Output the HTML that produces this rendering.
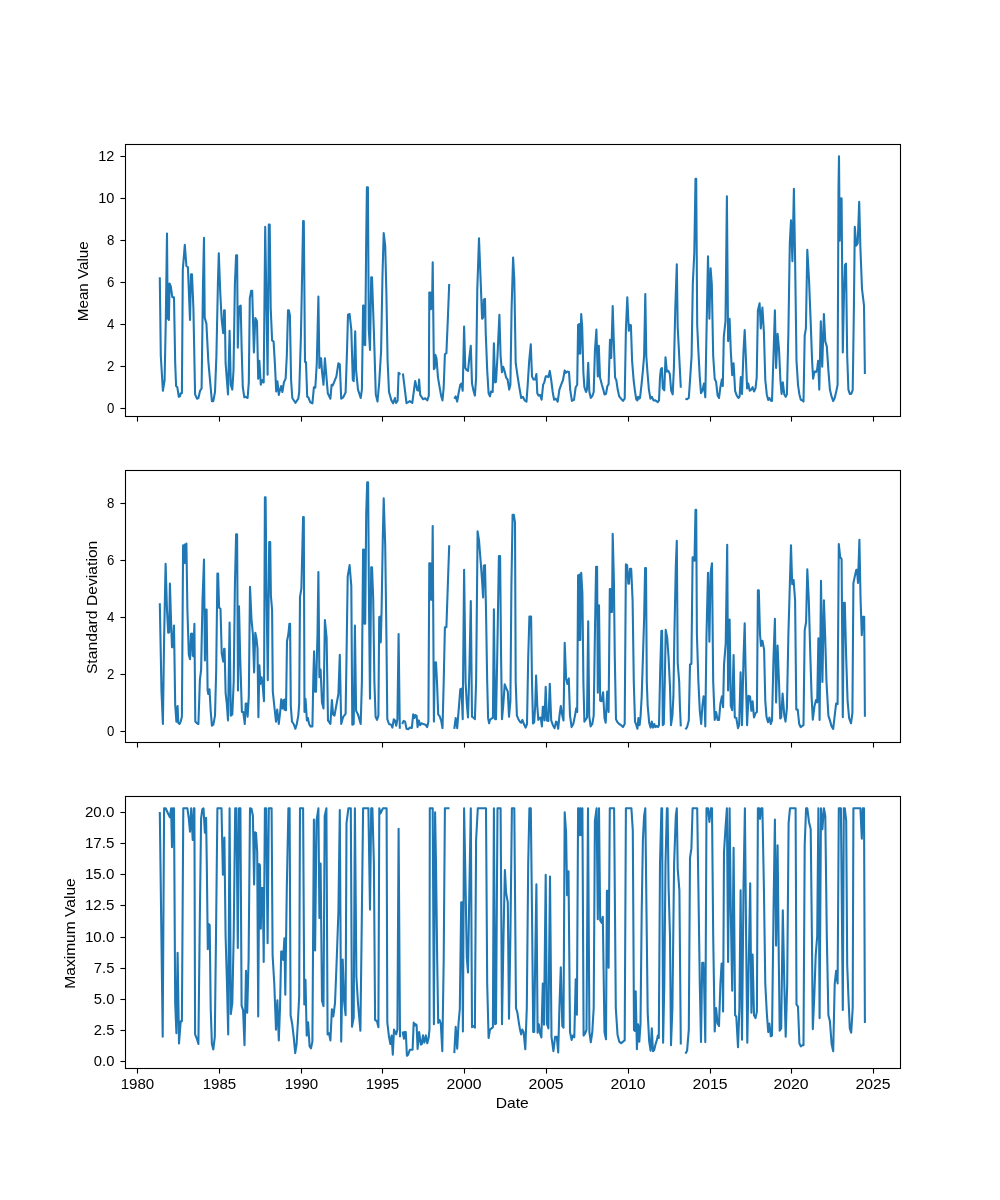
<!DOCTYPE html>
<html><head><meta charset="utf-8"><title>chart</title>
<style>
html,body{margin:0;padding:0;background:#fff;}
body{width:1000px;height:1200px;position:relative;overflow:hidden;font-family:"Liberation Sans",sans-serif;}
.t{font-family:"Liberation Sans",sans-serif;font-size:14.2px;fill:#000;}
</style></head><body>
<svg width="1000" height="1200" viewBox="0 0 1000 1200" style="position:absolute;left:0;top:0;transform:translateZ(0);will-change:transform">
<rect width="1000" height="1200" fill="#fff"/>
<clipPath id="c0"><rect x="125.0" y="144.00" width="775.0" height="271.76"/></clipPath>
<g clip-path="url(#c0)" fill="none" stroke="#1f77b4" stroke-width="2.08" stroke-linejoin="round" stroke-linecap="butt">
<polyline points="159.8,277.3 160.8,356.0 162.9,390.8 164.6,380.0 165.8,320.0 167.0,233.6 167.7,318.8 168.2,317.6 168.7,284.0 168.9,320.0 169.6,283.5 170.8,286.4 172.3,297.2 174.0,297.2 175.2,363.2 176.1,386.0 177.3,387.2 178.8,396.8 180.0,396.3 180.7,393.2 181.9,393.2 182.8,269.6 184.8,244.9 186.4,266.0 187.9,267.2 190.0,320.0 191.0,274.4 192.0,274.4 193.4,308.0 195.1,394.4 197.0,398.7 198.4,398.0 200.1,390.8 201.6,388.4 203.0,284.0 204.0,237.7 204.7,317.6 206.4,323.6 208.3,360.8 210.2,382.4 211.9,401.1 213.3,401.1 215.0,392.0 216.4,356.0 217.9,284.0 218.8,253.3 220.3,293.6 221.7,320.0 223.2,333.2 224.1,310.4 224.8,310.4 225.6,363.2 228.0,394.4 229.6,330.8 230.8,384.8 232.3,389.6 233.5,370.4 234.9,284.0 236.1,255.2 237.1,255.2 237.8,347.6 239.0,306.8 240.7,305.6 241.6,346.4 242.8,387.2 244.3,397.3 245.7,396.8 247.6,398.0 248.8,382.4 249.8,298.4 251.2,290.7 252.2,290.7 253.9,352.4 255.3,318.1 257.0,321.2 258.2,378.8 259.4,360.8 260.8,384.8 262.3,380.0 263.7,382.4 265.2,226.9 267.6,374.7 268.8,224.5 269.7,224.5 270.7,308.0 272.1,340.4 273.6,341.6 275.0,365.6 276.2,391.5 277.4,381.2 278.8,394.9 280.0,389.6 281.2,386.0 282.4,392.0 283.9,382.4 285.6,378.8 286.8,356.0 288.0,310.4 288.9,310.4 289.9,315.2 291.1,380.0 292.3,398.0 295.4,402.8 298.3,398.7 299.2,392.0 300.9,336.8 302.4,260.0 303.1,221.1 303.8,221.1 305.0,362.0 306.0,362.0 307.2,396.8 308.4,397.3 310.3,402.3 312.4,403.3 313.9,387.2 315.3,387.7 316.8,363.2 318.4,296.5 319.4,368.0 320.1,357.9 321.1,358.4 322.0,371.6 323.5,384.8 324.9,358.4 325.9,370.4 327.8,393.2 330.4,398.7 331.6,384.8 332.8,385.3 334.5,381.2 336.4,376.4 338.4,363.2 339.8,364.4 341.2,398.7 343.2,397.3 345.6,392.5 347.0,351.2 348.0,314.7 349.6,314.0 351.3,329.6 352.8,380.0 353.7,381.2 355.2,331.3 356.1,370.4 358.0,389.6 360.7,398.0 361.9,389.6 363.1,305.6 363.8,305.6 364.5,344.7 365.2,345.2 366.2,240.8 366.9,187.3 367.9,187.3 368.8,329.6 370.0,350.0 371.2,277.3 372.0,277.3 373.9,332.0 375.8,394.4 377.5,401.6 379.2,382.4 381.1,351.2 382.5,274.4 383.7,233.1 385.2,245.6 386.4,293.6 387.6,360.8 389.0,392.0 391.4,400.4 393.1,403.3 395.0,398.0 395.0,399.7 396.1,403.0 397.6,400.6 398.6,372.8 400.4,374.5"/>
<polyline points="402.9,373.5 406.5,403.2 408.7,401.8 409.8,401.1 412.3,402.8 415.2,381.0 417.3,390.3 418.4,390.6 419.1,379.5 420.2,394.9 423.0,399.2 425.2,398.2 427.3,400.4 428.8,395.8 429.3,292.6 430.3,292.6 431.0,309.2 432.0,308.0 432.7,262.4 433.9,369.2 434.8,368.0 435.3,354.8 436.5,358.4 438.0,377.6 439.6,387.2 441.1,395.6 442.5,400.4 443.7,387.2 444.9,354.3 446.4,353.1 447.8,320.0 449.2,284.0"/>
<polyline points="454.3,398.7 455.7,396.3 457.2,401.6 458.8,392.0 460.3,384.8 461.5,383.6 462.7,390.8 464.1,326.5 465.3,368.0 466.5,369.9 468.0,370.9 469.4,357.2 470.8,345.7 472.0,383.6 473.5,390.8 474.9,395.6 476.1,377.6 477.3,288.8 479.0,238.4 480.4,274.4 482.1,318.8 483.1,317.6 483.8,299.6 485.0,298.9 485.7,332.0 487.2,370.4 488.6,393.2 490.0,396.3 491.0,391.5 492.7,392.0 493.9,343.3 495.1,382.4 496.0,381.9 497.5,356.0 499.4,314.7 500.6,356.0 502.0,372.3 503.2,366.8 504.7,371.6 506.1,377.6 507.6,379.5 509.2,389.6 510.4,384.8 511.6,308.0 513.1,257.6 514.3,279.2 515.7,363.2 517.6,376.4 519.3,387.2 521.2,398.0 522.9,396.8 524.6,400.4 526.5,401.6 527.7,384.8 529.2,360.8 530.8,344.2 532.0,376.4 533.5,379.5 535.2,379.5 536.4,374.0 537.3,393.2 538.5,395.6 540.0,394.9 541.6,399.7 543.1,384.8 544.3,382.4 545.7,376.4 547.2,376.4 548.4,377.1 549.8,370.9 551.2,380.0 552.7,392.0 554.1,399.7 555.8,398.7 557.7,401.6 559.4,389.6 561.1,384.8 563.0,380.0 564.7,370.4 565.9,372.8 567.3,371.6 569.0,372.1 570.2,389.6 571.9,400.9 574.0,399.9 575.7,387.2 577.2,384.8 578.1,324.8 578.8,353.6 579.3,324.1 580.3,353.6 581.2,314.0 582.2,327.2 583.4,372.8 584.4,387.2 586.0,392.0 587.0,389.6 588.2,362.7 589.4,392.0 590.8,398.0 592.5,395.6 593.7,392.0 594.9,351.2 596.4,329.6 597.8,376.4 598.8,345.7 600.0,377.6 601.9,384.8 603.3,389.6 604.5,394.4 606.0,393.9 607.4,386.0 608.6,384.3 610.0,339.7 611.2,357.9 612.7,306.1 613.9,344.0 615.1,377.6 616.3,380.0 617.7,389.6 619.2,396.3 621.1,398.7 623.0,400.9 624.7,398.7 625.9,329.6 627.3,297.2 628.8,330.8 629.5,324.8 630.9,325.3 632.1,360.8 633.6,380.0 635.0,391.3 635.0,391.3 636.2,399.2 637.4,400.4 638.1,396.8 639.1,398.7 640.0,398.0 641.5,384.8 642.9,370.4 644.1,356.0 645.3,294.1 646.3,356.0 647.5,372.8 648.9,389.6 650.4,398.7 651.8,396.8 653.5,400.4 655.4,400.4 657.8,402.1 659.0,400.4 660.0,377.6 660.9,369.2 661.9,368.0 662.8,388.4 664.3,390.3 665.5,357.2 666.9,371.6 668.4,370.9 669.8,374.0 671.2,390.8 672.7,394.4 673.9,368.0 675.3,308.0 676.8,264.3 677.7,327.2 679.2,356.0 680.8,387.7"/>
<polyline points="685.4,398.7 687.1,399.2 688.8,398.0 690.2,377.6 691.6,356.0 692.8,284.0 694.3,252.8 695.5,178.9 696.2,178.9 697.2,324.8 698.4,351.2 699.8,377.6 701.0,393.2 702.4,390.8 703.9,383.6 705.3,397.3 706.5,332.0 708.0,256.4 709.4,318.8 710.6,268.4 711.8,284.0 713.2,356.0 714.7,378.8 716.1,381.9 717.6,395.6 719.0,398.0 720.4,387.2 721.9,379.3 722.8,386.0 723.8,336.8 725.5,321.2 726.9,196.4 728.1,341.1 729.6,318.8 730.8,351.2 732.2,375.2 733.6,363.2 735.1,390.8 736.8,395.6 738.4,398.0 739.6,396.8 740.8,377.1 742.0,393.9 743.5,351.2 744.7,330.1 745.6,351.2 747.1,388.4 748.3,383.6 749.7,390.8 751.2,389.6 752.6,387.2 754.0,391.5 755.5,388.4 756.7,377.6 757.9,310.4 759.6,303.2 760.8,328.4 762.4,307.5 763.9,332.0 765.3,380.0 766.8,394.4 768.2,399.9 769.4,398.0 770.6,400.4 772.0,400.9 773.5,356.0 774.9,310.4 776.1,368.0 777.6,333.9 779.0,348.8 780.4,380.0 781.6,393.9 782.8,382.4 784.3,394.4 785.7,396.8 786.9,394.4 788.4,332.0 789.8,243.2 791.0,220.4 792.4,261.2 793.9,188.7 795.1,260.0 796.5,360.8 798.0,384.8 799.4,394.4 800.8,399.7 802.3,400.4 803.5,401.6 804.7,335.6 805.9,328.4 807.3,249.7 809.0,279.2 810.7,322.4 812.1,360.8 813.1,378.8 814.5,371.6 816.0,372.1 817.2,369.2 818.1,360.8 819.3,389.6 820.8,321.4 822.2,366.8 823.9,314.0 825.3,341.6 826.8,346.4 828.4,370.4 829.9,389.6 831.3,395.6 833.2,401.1 834.7,398.0 836.4,390.8 837.6,384.8 838.5,188.0 839.0,156.3 839.7,240.8 840.4,198.8 841.6,198.3 842.8,352.4 844.0,293.6 845.0,264.8 846.0,263.6 847.2,356.0 848.4,389.6 849.8,393.9 851.2,393.9 852.7,390.1 853.9,308.0 854.8,226.9 856.3,245.6 857.7,243.2 859.2,201.7 860.4,248.0 862.0,288.8 864.0,305.6 864.9,374.0"/>
</g>
<rect x="125.5" y="144.5" width="775.0" height="272.0" fill="none" stroke="#000" stroke-width="1.1"/>
<g stroke="#000" stroke-width="1.1">
<line x1="137.5" x2="137.5" y1="417.0" y2="421.60"/>
<line x1="219.5" x2="219.5" y1="417.0" y2="421.60"/>
<line x1="301.5" x2="301.5" y1="417.0" y2="421.60"/>
<line x1="382.5" x2="382.5" y1="417.0" y2="421.60"/>
<line x1="464.5" x2="464.5" y1="417.0" y2="421.60"/>
<line x1="546.5" x2="546.5" y1="417.0" y2="421.60"/>
<line x1="628.5" x2="628.5" y1="417.0" y2="421.60"/>
<line x1="710.5" x2="710.5" y1="417.0" y2="421.60"/>
<line x1="791.5" x2="791.5" y1="417.0" y2="421.60"/>
<line x1="873.5" x2="873.5" y1="417.0" y2="421.60"/>
<line x1="120.40" x2="125.0" y1="408.5" y2="408.5"/>
<line x1="120.40" x2="125.0" y1="366.5" y2="366.5"/>
<line x1="120.40" x2="125.0" y1="324.5" y2="324.5"/>
<line x1="120.40" x2="125.0" y1="282.5" y2="282.5"/>
<line x1="120.40" x2="125.0" y1="240.5" y2="240.5"/>
<line x1="120.40" x2="125.0" y1="198.5" y2="198.5"/>
<line x1="120.40" x2="125.0" y1="156.5" y2="156.5"/>
</g>
<text x="114.38" y="413.30" text-anchor="end" class="t" textLength="7.34" lengthAdjust="spacingAndGlyphs">0</text>
<text x="114.38" y="371.20" text-anchor="end" class="t" textLength="7.34" lengthAdjust="spacingAndGlyphs">2</text>
<text x="114.38" y="329.10" text-anchor="end" class="t" textLength="7.34" lengthAdjust="spacingAndGlyphs">4</text>
<text x="114.38" y="287.00" text-anchor="end" class="t" textLength="7.34" lengthAdjust="spacingAndGlyphs">6</text>
<text x="114.38" y="244.90" text-anchor="end" class="t" textLength="7.34" lengthAdjust="spacingAndGlyphs">8</text>
<text x="114.38" y="202.80" text-anchor="end" class="t" textLength="16.17" lengthAdjust="spacingAndGlyphs">10</text>
<text x="114.38" y="160.70" text-anchor="end" class="t" textLength="16.17" lengthAdjust="spacingAndGlyphs">12</text>
<text transform="translate(88.05,281.28) rotate(-90)" text-anchor="middle" class="t" textLength="79.80" lengthAdjust="spacingAndGlyphs">Mean Value</text>
<clipPath id="c1"><rect x="125.0" y="470.12" width="775.0" height="271.76"/></clipPath>
<g clip-path="url(#c1)" fill="none" stroke="#1f77b4" stroke-width="2.08" stroke-linejoin="round" stroke-linecap="butt">
<polyline points="159.8,603.3 161.5,691.6 162.9,724.0 164.1,638.8 165.6,563.7 167.0,610.0 168.2,632.8 169.2,632.3 169.9,583.6 171.1,622.0 172.0,647.2 172.8,647.2 174.0,625.6 175.2,704.8 176.4,721.6 177.6,706.0 178.3,722.8 179.5,724.0 180.7,721.6 181.9,716.8 183.1,545.2 184.0,563.2 184.8,544.5 185.5,562.7 186.4,543.5 187.4,610.0 188.8,654.4 190.0,659.2 191.0,634.0 192.0,633.5 192.7,655.6 193.4,656.3 194.4,623.7 195.3,721.6 197.0,723.3 198.4,724.0 199.9,679.6 201.1,670.0 202.5,600.4 204.0,559.6 204.9,660.4 205.9,609.5 206.6,609.5 207.6,690.4 208.3,694.0 209.5,689.2 210.7,710.8 211.9,725.7 213.3,724.7 215.0,715.6 216.2,670.0 217.4,573.5 218.1,573.5 219.1,607.6 220.5,608.8 221.7,653.2 223.2,661.6 224.1,648.9 224.6,648.9 225.6,692.8 226.8,703.6 228.0,720.4 229.6,622.5 230.8,715.6 232.3,714.4 233.7,682.0 234.9,586.0 236.1,534.4 237.1,534.4 238.0,690.4 239.0,606.4 240.2,658.0 241.9,712.0 243.3,712.0 244.8,724.0 245.7,703.6 246.7,703.6 247.6,716.8 248.8,696.4 250.0,586.7 251.5,619.6 252.9,634.0 254.1,672.4 255.3,632.8 256.5,638.8 257.5,648.4 258.4,717.3 259.4,665.2 260.4,683.9 261.6,677.2 262.8,686.8 264.0,701.2 264.9,497.2 265.6,497.2 266.4,586.0 267.8,680.3 269.2,542.1 270.2,542.1 270.9,595.6 272.1,610.0 272.8,691.6 274.3,706.0 276.0,721.6 277.2,709.6 278.8,724.0 280.3,710.8 281.2,699.3 282.4,708.4 283.6,700.0 284.4,709.6 285.1,699.3 286.0,710.3 287.0,641.2 288.4,634.0 289.4,623.7 290.1,623.7 290.8,706.0 292.0,721.6 293.7,724.0 295.4,728.8 296.8,724.0 298.3,715.6 299.2,703.6 300.0,596.8 301.4,588.4 303.1,517.1 303.8,517.1 304.5,712.0 305.5,698.8 306.9,720.4 307.9,718.0 309.1,724.0 310.5,726.4 312.4,726.4 313.4,674.8 314.1,651.3 315.1,691.6 316.0,691.6 317.5,634.0 318.4,572.1 319.4,677.2 320.6,669.5 322.0,702.4 323.5,708.4 324.9,620.1 326.6,637.6 328.0,720.4 330.4,724.0 331.9,700.0 333.1,714.4 334.5,715.6 336.2,706.0 338.4,694.0 339.8,654.9 341.2,724.0 343.2,716.8 345.6,713.9 346.5,658.0 347.7,576.4 349.6,565.1 351.3,586.0 352.3,724.7 353.7,724.0 354.9,625.6 356.1,710.8 358.0,714.4 360.7,724.0 361.9,682.0 363.1,549.5 363.8,549.5 364.5,623.7 365.2,623.7 366.2,514.0 367.2,482.3 368.1,482.3 369.1,614.8 370.0,698.8 371.2,567.3 372.0,567.3 373.2,598.0 374.4,682.0 375.6,716.8 377.0,719.9 378.4,715.6 379.2,617.2 380.1,616.7 380.8,642.4 381.6,610.0 382.8,538.0 383.7,498.4 385.2,545.2 386.4,634.0 387.3,719.2 389.0,724.0 391.2,724.7 392.4,727.6 393.8,719.2 395.0,720.4 395.0,720.4 396.2,725.7 397.4,719.2 398.6,634.0 399.8,728.8"/>
<polyline points="402.2,724.0 403.6,720.9 405.1,721.6 406.5,728.8 408.2,729.3 409.9,727.6 411.8,728.1 413.2,714.4 414.4,718.0 415.4,715.1 416.6,715.6 417.6,727.1 418.8,720.4 420.2,725.2 421.4,723.3 423.3,724.0 425.5,724.7 427.2,727.1 428.4,721.6 429.3,563.2 430.3,563.2 431.0,599.7 432.0,599.7 432.7,526.0 433.9,721.6 434.8,662.8 436.0,662.3 437.0,682.0 438.2,714.4 439.6,716.1 441.1,720.4 442.5,728.1 443.7,682.0 444.9,627.3 446.4,627.3 447.8,586.0 449.2,545.2"/>
<polyline points="454.3,728.8 455.7,718.0 457.2,728.1 458.8,708.4 460.3,689.2 461.5,688.7 462.7,719.2 464.1,569.7 465.6,682.0 466.8,703.6 468.0,717.5 469.4,670.0 470.8,601.1 472.0,716.8 473.5,717.5 474.9,719.2 476.1,682.0 477.6,531.3 479.0,540.4 480.7,562.0 482.1,581.2 483.1,597.5 483.8,565.6 485.0,565.1 486.0,610.0 487.2,682.0 488.1,718.0 489.1,723.3 490.0,719.9 491.5,718.5 492.9,718.0 493.9,609.3 495.1,719.2 496.0,719.2 497.2,658.0 498.9,556.0 500.1,556.0 501.1,658.0 502.0,719.2 503.2,706.0 504.7,684.4 506.1,688.0 507.8,691.6 509.0,716.8 510.4,701.2 511.4,586.0 512.6,514.7 513.8,514.7 515.0,522.4 515.7,682.0 516.9,715.6 518.4,719.2 519.8,721.6 521.2,722.8 522.4,719.9 523.9,724.0 525.6,727.6 527.0,724.0 528.2,658.0 529.4,616.5 531.1,616.5 532.0,682.0 533.0,723.5 534.2,722.3 535.2,706.0 536.1,675.5 537.3,706.0 538.3,719.9 539.7,718.0 540.7,717.5 541.9,726.4 542.8,706.7 543.6,706.7 544.5,720.4 545.7,686.8 546.9,720.4 548.4,720.9 549.8,683.9 551.2,720.4 552.9,725.2 554.6,728.1 556.0,721.6 557.0,722.3 558.2,728.8 559.6,714.4 560.8,706.0 562.3,715.6 563.5,720.4 564.7,642.9 566.1,678.4 567.3,683.9 568.8,678.4 570.0,715.6 571.6,727.1 573.3,724.0 575.0,715.6 576.2,708.4 577.2,712.0 578.1,575.2 578.8,640.0 579.6,574.5 580.3,640.0 581.2,572.8 582.4,593.2 583.4,682.0 584.4,721.6 586.0,719.2 587.0,717.5 588.2,621.3 589.2,715.6 590.6,726.4 592.3,724.0 593.7,715.6 594.9,634.0 596.1,566.8 597.1,566.8 597.8,692.8 599.0,605.2 600.2,700.7 601.6,701.2 603.1,692.3 604.5,718.0 605.7,722.8 607.2,691.6 608.6,712.0 609.8,589.1 610.5,589.1 611.2,611.9 612.0,611.9 612.7,533.9 613.9,581.2 614.8,658.0 616.0,719.2 617.5,722.3 619.2,724.0 621.1,725.2 623.0,727.1 624.7,724.0 625.9,564.4 627.1,565.1 628.3,583.6 629.0,583.6 630.0,568.7 631.2,568.7 632.6,600.4 633.8,682.0 635.0,721.6 635.0,721.6 636.2,724.7 637.4,728.8 638.4,718.0 639.6,725.2 640.5,717.5 641.7,696.4 642.9,658.0 644.1,619.6 645.1,568.0 646.0,568.0 646.8,682.0 647.7,706.0 649.2,722.8 650.6,727.6 651.8,721.6 653.0,727.6 654.2,724.0 655.4,727.1 656.8,725.9 658.0,727.1 659.0,725.2 660.2,670.0 661.4,630.9 662.1,630.9 662.8,725.2 663.8,724.0 664.8,682.0 665.7,629.9 667.2,637.6 668.6,658.0 670.0,686.8 671.0,725.2 672.4,715.6 673.4,696.4 674.4,634.0 675.8,566.8 676.8,540.9 677.7,662.8 679.2,682.0 679.9,706.0 680.8,726.4"/>
<polyline points="685.4,729.3 687.1,727.1 688.8,720.4 690.0,664.5 691.4,664.0 692.6,557.2 693.8,557.7 694.5,560.8 695.5,509.9 696.2,509.9 696.9,634.0 698.4,682.0 699.8,710.8 701.2,724.0 702.4,706.0 703.6,696.4 704.4,696.9 705.3,726.4 706.5,634.0 708.0,572.8 709.4,641.7 710.6,572.8 712.0,563.2 713.2,682.0 714.7,719.9 716.1,712.0 717.6,719.9 719.0,719.9 720.4,703.6 721.9,696.4 723.1,707.2 724.0,665.2 725.7,643.6 727.2,544.7 728.1,690.4 729.6,619.6 730.8,706.0 732.2,710.3 733.6,655.1 734.8,717.5 736.3,718.0 738.0,728.1 739.2,724.7 740.6,672.4 742.0,725.2 743.5,658.0 744.7,623.2 745.6,670.0 747.1,725.2 748.5,695.9 750.0,696.4 751.4,710.8 752.6,701.2 754.0,717.5 755.5,713.2 756.9,712.0 757.9,590.3 758.8,590.3 760.0,634.0 761.0,646.0 762.4,640.7 764.1,649.6 765.3,701.2 766.5,716.8 768.0,722.3 769.4,717.5 770.8,724.0 772.0,720.4 773.5,658.0 774.9,618.9 776.1,702.4 777.6,645.5 779.0,682.0 780.2,718.5 781.2,717.5 782.6,693.5 784.3,715.6 785.5,721.6 786.9,708.4 788.4,634.0 789.8,586.0 791.0,545.2 792.2,584.3 793.6,580.0 795.1,600.4 796.3,709.6 797.7,709.6 799.2,724.0 800.6,727.1 802.3,725.9 803.5,725.2 804.7,630.4 806.1,622.0 807.3,569.2 808.8,600.4 810.4,658.0 811.6,696.4 812.8,719.7 814.5,706.0 816.0,700.0 817.2,702.4 818.4,638.3 819.6,719.9 821.0,580.7 822.4,682.0 823.9,600.4 825.1,634.0 826.5,682.0 828.4,715.6 829.9,720.4 831.6,726.4 833.2,728.8 834.7,715.6 836.1,703.6 837.6,704.1 838.8,544.0 840.2,557.2 841.6,559.1 842.8,717.3 843.8,602.8 844.8,602.8 846.2,658.0 847.6,701.2 849.1,718.0 851.0,723.3 852.4,713.2 853.4,583.1 854.8,576.4 856.3,569.7 857.0,569.7 858.0,582.9 859.4,539.7 860.6,600.4 861.8,635.2 863.0,616.7 864.2,616.7 864.9,716.8"/>
</g>
<rect x="125.5" y="470.5" width="775.0" height="272.0" fill="none" stroke="#000" stroke-width="1.1"/>
<g stroke="#000" stroke-width="1.1">
<line x1="137.5" x2="137.5" y1="743.0" y2="747.60"/>
<line x1="219.5" x2="219.5" y1="743.0" y2="747.60"/>
<line x1="301.5" x2="301.5" y1="743.0" y2="747.60"/>
<line x1="382.5" x2="382.5" y1="743.0" y2="747.60"/>
<line x1="464.5" x2="464.5" y1="743.0" y2="747.60"/>
<line x1="546.5" x2="546.5" y1="743.0" y2="747.60"/>
<line x1="628.5" x2="628.5" y1="743.0" y2="747.60"/>
<line x1="710.5" x2="710.5" y1="743.0" y2="747.60"/>
<line x1="791.5" x2="791.5" y1="743.0" y2="747.60"/>
<line x1="873.5" x2="873.5" y1="743.0" y2="747.60"/>
<line x1="120.40" x2="125.0" y1="731.5" y2="731.5"/>
<line x1="120.40" x2="125.0" y1="674.5" y2="674.5"/>
<line x1="120.40" x2="125.0" y1="617.5" y2="617.5"/>
<line x1="120.40" x2="125.0" y1="560.5" y2="560.5"/>
<line x1="120.40" x2="125.0" y1="503.5" y2="503.5"/>
</g>
<text x="114.38" y="736.30" text-anchor="end" class="t" textLength="7.34" lengthAdjust="spacingAndGlyphs">0</text>
<text x="114.38" y="679.22" text-anchor="end" class="t" textLength="7.34" lengthAdjust="spacingAndGlyphs">2</text>
<text x="114.38" y="622.14" text-anchor="end" class="t" textLength="7.34" lengthAdjust="spacingAndGlyphs">4</text>
<text x="114.38" y="565.06" text-anchor="end" class="t" textLength="7.34" lengthAdjust="spacingAndGlyphs">6</text>
<text x="114.38" y="507.98" text-anchor="end" class="t" textLength="7.34" lengthAdjust="spacingAndGlyphs">8</text>
<text transform="translate(97.0,607.40) rotate(-90)" text-anchor="middle" class="t" textLength="133.43" lengthAdjust="spacingAndGlyphs">Standard Deviation</text>
<clipPath id="c2"><rect x="125.0" y="796.24" width="775.0" height="271.76"/></clipPath>
<g clip-path="url(#c2)" fill="none" stroke="#1f77b4" stroke-width="2.08" stroke-linejoin="round" stroke-linecap="butt">
<polyline points="159.8,811.9 162.7,1036.8 164.1,808.3 165.6,808.3 167.0,811.2 168.4,814.3 169.9,817.2 171.1,808.3 172.0,847.2 173.0,808.3 174.0,808.3 175.2,1003.2 176.4,1033.2 177.6,952.8 179.0,1043.5 180.7,1021.2 181.9,1021.2 183.3,808.3 187.4,808.3 188.8,818.4 190.0,831.6 191.2,808.3 192.7,840.0 193.9,808.3 194.4,808.3 195.1,1034.4 197.0,1039.2 198.4,1044.0 199.6,936.0 201.1,818.4 202.3,809.3 203.5,808.3 204.9,832.8 206.1,817.9 206.8,864.0 207.8,949.2 208.8,924.0 209.7,925.2 210.7,1008.0 211.9,1044.0 213.3,1049.5 214.8,1036.8 216.0,936.0 217.4,808.3 221.5,808.3 222.9,874.8 224.4,837.6 225.6,936.0 227.0,984.0 228.2,1034.4 229.6,808.3 230.8,1014.0 232.3,1003.2 233.7,936.0 235.2,808.3 236.4,808.3 237.8,948.0 239.0,808.3 240.4,808.3 241.6,1005.6 243.1,1010.4 244.5,1045.2 246.0,970.8 247.2,1012.8 248.6,960.0 250.0,808.3 251.5,808.8 252.9,816.0 254.1,884.4 255.1,832.3 256.0,832.8 257.2,852.0 258.2,1016.4 259.2,864.0 259.9,865.2 260.8,928.8 261.6,888.0 262.8,888.0 263.7,961.9 264.9,808.3 266.1,808.3 267.6,943.2 268.8,808.3 271.6,808.3 272.6,955.2 274.3,984.0 276.0,1029.6 277.4,1000.3 278.8,1040.4 280.0,1008.0 281.2,951.6 282.2,951.6 283.2,960.0 284.4,938.4 285.3,994.8 286.8,888.0 288.4,808.3 289.6,808.3 290.6,1015.2 292.3,1024.8 293.7,1036.8 295.2,1053.1 296.6,1044.0 298.0,1020.0 299.2,996.0 300.0,808.3 303.1,808.3 304.3,1004.4 305.5,979.9 306.7,1035.6 308.1,1022.4 309.6,1046.4 311.0,1048.3 312.4,1041.6 313.9,819.6 315.1,950.4 316.5,820.8 318.4,808.3 319.4,918.0 320.6,863.5 322.0,1000.8 323.5,1006.1 324.7,816.0 326.4,808.3 327.6,1034.4 329.0,1033.2 330.4,1040.4 331.9,1009.2 333.3,1016.4 335.0,1003.2 336.7,960.0 338.4,912.0 339.8,810.0 341.2,1041.6 342.7,959.5 344.1,1000.8 345.6,1015.2 346.5,823.2 348.4,808.3 350.8,808.3 352.0,1026.7 353.7,1017.6 354.9,808.3 356.4,976.8 358.0,1003.2 360.4,1030.8 361.6,936.0 363.1,808.3 368.4,808.3 370.0,909.6 371.2,808.3 372.4,808.3 373.9,864.0 375.1,1020.0 377.0,1021.2 378.4,1027.2 379.3,808.3 380.4,813.6 383.0,808.3 386.6,808.3 387.3,1022.4 389.0,1036.8 390.4,1044.0 391.6,1035.6 392.8,1054.8 394.0,1029.6 395.0,1032.0 395.0,1032.0 396.2,1034.4 397.4,1029.6 398.6,828.7 400.0,1037.3"/>
<polyline points="402.6,1031.5 404.0,1038.7 404.7,1032.0 405.8,1032.0 406.9,1055.8 408.0,1055.0 409.8,1049.8 412.6,1049.8 413.7,1022.6 414.8,1025.5 415.5,1024.1 416.6,1025.0 417.6,1049.0 419.1,1032.0 420.9,1044.5 421.9,1044.0 423.0,1035.4 424.4,1042.6 425.9,1035.4 427.3,1043.3 428.7,1037.5 429.5,1029.1 429.8,808.3 432.7,808.3 433.9,1024.3 435.1,812.4 436.0,864.0 437.2,960.0 438.2,1022.9 439.6,1020.0 440.8,1023.6 442.3,1051.2 443.7,960.0 444.9,808.3 449.5,808.3"/>
<polyline points="454.3,1053.1 455.7,1026.7 457.2,1048.8 458.6,1022.4 459.8,1009.2 461.2,902.4 462.0,902.4 462.9,1031.5 464.1,808.3 465.6,888.0 466.8,957.6 468.0,972.5 469.4,888.0 470.8,808.3 472.0,1027.2 473.5,1026.0 474.9,1027.7 476.1,840.0 477.8,808.3 486.0,808.3 487.2,984.0 488.6,1038.0 490.0,1029.6 491.5,1028.4 492.9,1027.2 493.9,808.3 495.1,1024.3 496.0,1023.6 497.5,808.3 500.6,808.3 502.0,1024.3 503.5,936.0 504.9,870.0 506.1,892.8 507.8,902.4 509.0,1018.8 510.4,936.0 511.9,808.3 514.3,808.3 516.0,1008.0 517.4,1012.8 518.8,1022.4 520.0,1029.6 521.2,1034.4 522.2,1029.6 523.6,1032.0 525.3,1049.3 526.8,1008.0 528.2,864.0 529.4,808.3 530.8,808.3 532.0,912.0 533.2,1032.0 534.2,1032.0 535.2,960.0 536.4,884.4 537.6,1032.7 538.8,1024.3 540.0,1033.2 541.4,1037.5 542.8,983.5 544.0,1024.8 545.7,874.8 546.9,1023.6 548.4,1028.4 550.0,876.5 551.5,1036.8 553.4,1051.2 555.1,1036.8 556.8,1036.8 558.2,1052.4 559.4,1008.0 560.8,967.2 562.3,1026.0 563.5,1027.7 564.7,812.4 566.1,832.8 567.1,895.2 568.5,871.2 570.0,1032.0 571.6,1039.9 572.8,1035.6 574.3,1037.3 575.7,979.2 576.9,1014.7 578.1,808.3 578.8,808.3 579.6,835.2 580.5,808.3 581.5,835.2 582.4,808.3 583.6,1035.6 585.3,1033.2 586.5,1029.6 588.0,808.3 589.4,1032.0 590.8,1042.3 592.3,1032.0 593.7,1008.0 594.9,820.8 596.6,808.3 597.8,919.2 599.0,808.3 600.2,920.4 601.6,922.8 602.8,916.8 604.5,1032.0 606.0,1039.2 606.9,890.9 607.9,890.9 608.6,967.7 609.8,808.3 614.1,808.3 615.8,1008.0 617.5,1034.4 619.2,1041.6 621.1,1043.3 623.0,1041.6 624.7,1040.4 625.9,808.3 631.4,808.3 632.8,830.4 634.0,1030.1 635.0,1030.8 635.0,1030.8 635.7,991.2 636.9,1049.3 638.1,1024.3 639.3,1041.6 640.5,1024.3 641.7,912.0 642.9,840.0 644.1,816.0 645.3,808.3 646.5,912.0 647.7,1012.8 649.2,1041.6 650.6,1050.7 651.8,1028.4 653.0,1051.2 654.2,1050.0 655.6,1044.0 656.8,1040.4 657.8,1035.6 658.8,1038.0 660.0,864.0 661.4,808.3 662.1,808.3 663.1,1042.8 664.3,984.0 665.5,864.0 666.9,808.3 667.6,808.3 668.6,888.0 670.0,936.0 671.0,1045.2 672.4,1008.0 674.1,864.0 675.8,816.0 676.8,808.3 677.7,868.8 679.4,890.4 680.8,1044.5"/>
<polyline points="685.4,1053.6 687.1,1050.7 688.8,1029.6 690.0,858.0 691.4,848.4 692.6,808.3 697.2,808.3 698.4,888.0 699.8,984.0 701.0,1042.1 702.2,962.9 703.4,962.9 704.1,984.0 705.3,1042.1 706.5,808.3 708.0,808.3 709.4,822.0 710.8,808.3 712.0,808.3 713.2,936.0 714.7,1031.5 716.1,1008.0 717.6,1023.6 719.0,1026.0 720.4,984.0 721.6,963.6 722.4,963.6 723.1,1011.6 724.0,852.0 725.5,828.0 726.9,808.3 728.1,961.9 729.6,808.3 730.8,912.0 732.2,990.7 733.6,847.7 735.1,1015.2 736.3,1016.4 738.0,1047.1 739.4,1008.0 740.6,890.4 742.0,1039.7 743.5,888.0 744.9,808.3 746.1,936.0 747.3,1042.8 748.8,960.0 750.2,883.2 751.4,1012.8 752.6,954.5 754.0,1015.2 755.5,1018.1 756.9,1011.6 757.9,808.3 759.1,808.3 760.0,818.9 761.2,808.3 762.4,808.3 763.9,888.0 765.3,984.0 766.8,1012.8 768.2,1032.0 769.4,1023.6 770.8,1036.3 772.0,1035.6 773.5,912.0 774.9,819.6 776.1,945.6 777.6,845.3 778.8,960.0 779.7,1030.8 781.2,1028.4 782.8,910.3 784.3,984.0 785.7,1036.8 787.2,984.0 788.6,823.2 790.0,808.3 795.6,808.3 796.5,1004.4 798.0,1006.8 799.4,1043.5 800.8,1046.4 802.3,1045.2 803.5,1045.2 804.7,844.8 806.1,808.3 807.3,808.3 809.0,822.0 810.7,829.2 811.9,936.0 812.8,1029.1 814.3,996.0 815.7,955.2 817.2,936.0 818.4,808.3 819.6,1018.1 821.0,808.3 822.4,829.2 823.9,808.3 825.3,816.0 826.8,936.0 828.4,1015.2 829.9,1021.2 831.6,1044.0 833.2,1051.2 834.7,984.0 836.1,970.8 837.6,983.5 838.8,808.3 840.9,808.3 842.8,1009.9 843.8,808.3 844.8,808.3 846.2,820.8 847.2,964.8 848.4,996.0 849.8,1028.4 851.2,1032.7 852.7,1008.0 853.4,808.3 860.4,808.3 861.8,838.8 862.8,808.3 864.0,808.3 864.9,1023.1"/>
</g>
<rect x="125.5" y="796.5" width="775.0" height="272.0" fill="none" stroke="#000" stroke-width="1.1"/>
<g stroke="#000" stroke-width="1.1">
<line x1="137.5" x2="137.5" y1="1069.0" y2="1073.60"/>
<line x1="219.5" x2="219.5" y1="1069.0" y2="1073.60"/>
<line x1="301.5" x2="301.5" y1="1069.0" y2="1073.60"/>
<line x1="382.5" x2="382.5" y1="1069.0" y2="1073.60"/>
<line x1="464.5" x2="464.5" y1="1069.0" y2="1073.60"/>
<line x1="546.5" x2="546.5" y1="1069.0" y2="1073.60"/>
<line x1="628.5" x2="628.5" y1="1069.0" y2="1073.60"/>
<line x1="710.5" x2="710.5" y1="1069.0" y2="1073.60"/>
<line x1="791.5" x2="791.5" y1="1069.0" y2="1073.60"/>
<line x1="873.5" x2="873.5" y1="1069.0" y2="1073.60"/>
<line x1="120.40" x2="125.0" y1="1061.5" y2="1061.5"/>
<line x1="120.40" x2="125.0" y1="1030.5" y2="1030.5"/>
<line x1="120.40" x2="125.0" y1="999.5" y2="999.5"/>
<line x1="120.40" x2="125.0" y1="968.5" y2="968.5"/>
<line x1="120.40" x2="125.0" y1="937.5" y2="937.5"/>
<line x1="120.40" x2="125.0" y1="905.5" y2="905.5"/>
<line x1="120.40" x2="125.0" y1="874.5" y2="874.5"/>
<line x1="120.40" x2="125.0" y1="843.5" y2="843.5"/>
<line x1="120.40" x2="125.0" y1="812.5" y2="812.5"/>
</g>
<text x="137.42" y="1089.00" text-anchor="middle" class="t" textLength="33.55" lengthAdjust="spacingAndGlyphs">1980</text>
<text x="219.42" y="1089.00" text-anchor="middle" class="t" textLength="33.55" lengthAdjust="spacingAndGlyphs">1985</text>
<text x="301.42" y="1089.00" text-anchor="middle" class="t" textLength="33.55" lengthAdjust="spacingAndGlyphs">1990</text>
<text x="382.42" y="1089.00" text-anchor="middle" class="t" textLength="33.55" lengthAdjust="spacingAndGlyphs">1995</text>
<text x="464.00" y="1089.00" text-anchor="middle" class="t" textLength="35.10" lengthAdjust="spacingAndGlyphs">2000</text>
<text x="546.00" y="1089.00" text-anchor="middle" class="t" textLength="35.10" lengthAdjust="spacingAndGlyphs">2005</text>
<text x="628.00" y="1089.00" text-anchor="middle" class="t" textLength="35.10" lengthAdjust="spacingAndGlyphs">2010</text>
<text x="710.00" y="1089.00" text-anchor="middle" class="t" textLength="35.10" lengthAdjust="spacingAndGlyphs">2015</text>
<text x="791.00" y="1089.00" text-anchor="middle" class="t" textLength="35.10" lengthAdjust="spacingAndGlyphs">2020</text>
<text x="873.00" y="1089.00" text-anchor="middle" class="t" textLength="35.10" lengthAdjust="spacingAndGlyphs">2025</text>
<text x="114.38" y="1066.10" text-anchor="end" class="t" textLength="20.59" lengthAdjust="spacingAndGlyphs">0.0</text>
<text x="114.38" y="1034.97" text-anchor="end" class="t" textLength="20.59" lengthAdjust="spacingAndGlyphs">2.5</text>
<text x="114.38" y="1003.85" text-anchor="end" class="t" textLength="20.59" lengthAdjust="spacingAndGlyphs">5.0</text>
<text x="114.38" y="972.72" text-anchor="end" class="t" textLength="20.59" lengthAdjust="spacingAndGlyphs">7.5</text>
<text x="114.38" y="941.60" text-anchor="end" class="t" textLength="29.42" lengthAdjust="spacingAndGlyphs">10.0</text>
<text x="114.38" y="910.47" text-anchor="end" class="t" textLength="29.42" lengthAdjust="spacingAndGlyphs">12.5</text>
<text x="114.38" y="879.35" text-anchor="end" class="t" textLength="29.42" lengthAdjust="spacingAndGlyphs">15.0</text>
<text x="114.38" y="848.22" text-anchor="end" class="t" textLength="29.42" lengthAdjust="spacingAndGlyphs">17.5</text>
<text x="114.38" y="817.10" text-anchor="end" class="t" textLength="29.42" lengthAdjust="spacingAndGlyphs">20.0</text>
<text transform="translate(75.1,933.52) rotate(-90)" text-anchor="middle" class="t" textLength="110.39" lengthAdjust="spacingAndGlyphs">Maximum Value</text>
<text x="512.30" y="1107.75" text-anchor="middle" class="t" textLength="33.00" lengthAdjust="spacingAndGlyphs">Date</text>
</svg>
</body></html>
